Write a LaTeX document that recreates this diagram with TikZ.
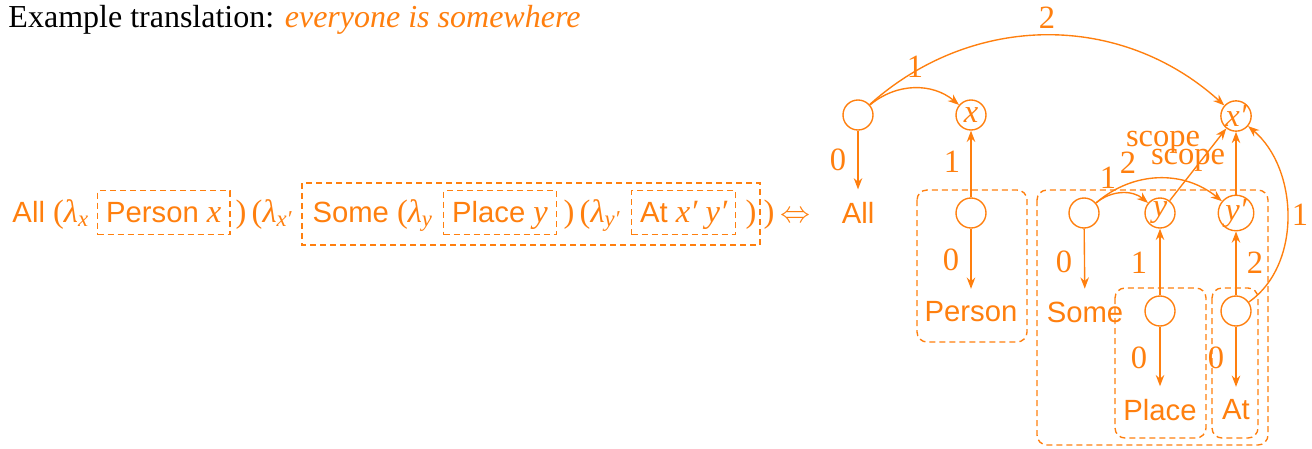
\documentclass[tikz,border=0pt]{standalone}
\usepackage{fontspec}
\setmainfont{Liberation Serif}
\setsansfont{Liberation Sans}
\usetikzlibrary{arrows.meta}
\definecolor{orng}{RGB}{255,127,14}
\newcommand\fsz{\fontsize{11.7}{14}\selectfont}
\newcommand\rsz{\fontsize{13}{15}\selectfont}
\newcommand\lam[1]{{\rmfamily\rsz\itshape λ\textsubscript{#1}}}
\newcommand\mi[1]{{\rmfamily\rsz\itshape #1}}
\begin{document}
\begin{tikzpicture}[x=0.4pt,y=0.4pt,
  ln/.style={draw=orng,line width=0.55pt},
  arr/.style={ln,-{Stealth[length=4.5pt,width=3.4pt]}},
  cn/.style={circle,draw=orng,line width=0.55pt,minimum size=12pt,inner sep=0pt,text=orng,font=\rsz\rmfamily\itshape},
  num/.style={text=orng,font=\rsz\rmfamily,inner sep=0pt},
  sl/.style={text=orng,font=\fsz\sffamily,inner sep=5pt},
  fx/.style={text=orng,font=\fsz\sffamily,inner sep=0pt,anchor=base west},
  fbx/.style={draw=orng,line width=0.55pt,dash pattern=on 2.4pt off 1.6pt,text=orng,font=\fsz\sffamily,anchor=base west,inner xsep=3.4pt,inner ysep=3pt,text height=9.5pt,text depth=2pt},
  grp/.style={draw=orng,line width=0.55pt,dash pattern=on 2.4pt off 1.6pt,rounded corners=4pt}]
\useasboundingbox (0,0) rectangle (1312,-448);
% title
\node[anchor=base west,inner sep=0pt,font=\fontsize{12.8}{15}\selectfont] (title) at (8,-27) {Example translation: \textcolor{orng}{\itshape everyone is somewhere}};
% left formula
\node[fx] (f1) at (12,-222) {All {\rmfamily\rsz(}\lam{x}};
\node[fbx] (b1) at (97,-222) {Person \mi{x}};
\node[fx] (f2) at (235,-222) {\rmfamily\rsz)\,(\lam{x′}};
\node[fx] (s1) at (312,-222) {Some {\rmfamily\rsz(}\lam{y}};
\node[fbx] (b2) at (443,-222) {Place \mi{y}};
\node[fx] (f3) at (563,-222) {\rmfamily\rsz)\,(\lam{y′}};
\node[fbx] (b3) at (631,-222) {At \mi{x′}\ \mi{y′}};
\node[fx] (f4) at (745,-222) {\rmfamily\rsz)};
\node[fx] (f5) at (763,-222) {\rmfamily\rsz)};
\node[fx] (iff) at (780,-222) {\rsz$\Leftrightarrow$};
\draw[grp,rounded corners=0pt] (302,-183) rectangle (760,-245);
% groups
\draw[grp] (917,-190) rectangle (1027,-342);
\draw[grp] (1037,-190) rectangle (1268,-445);
\draw[grp] (1115,-288) rectangle (1206,-438);
\draw[grp] (1212,-288) rectangle (1258,-438);
% circles
\node[cn] (A) at (858,-115) {};
\node[cn] (X) at (971,-115) {x};
\node[cn] (XP) at (1236,-116) {x′};
\node[cn] (P) at (971,-213) {};
\node[cn] (S) at (1084,-213) {};
\node[cn] (Y) at (1160,-213) {y};
\node[cn] (YP) at (1236,-213) {y′};
\node[cn] (PL) at (1160,-311) {};
\node[cn] (AT) at (1236,-311) {};
% labels
\node[sl] (All) at (858,-213) {All};
\node[sl] (Person) at (971,-312) {Person};
\node[sl] (Some) at (1085,-312) {Some};
\node[sl] (Place) at (1160,-410) {Place};
\node[sl] (At) at (1236,-410) {At};
% edges
\draw[arr] (A) -- (All);
\draw[arr] (A) to[bend left=40] (X);
\draw[arr] (A) to[bend left=42] (XP);
\draw[arr] (P) -- (X);
\draw[arr] (P) -- (Person);
\draw[arr] (S) -- (Some);
\draw[arr] (S) to[bend left=40] (Y);
\draw[arr] (S) to[bend left=40] (YP);
\draw[arr] (Y) -- (XP);
\draw[arr] (YP) -- (XP);
\draw[arr] (PL) -- (Y);
\draw[arr] (PL) -- (Place);
\draw[arr] (AT) -- (YP);
\draw[arr] (AT) -- (At);
\draw[arr] (AT) to[out=35,in=-40,looseness=0.95] (XP);
% edge labels
\node[num] (l1) at (838,-160) {0};
\node[num] (l2) at (915,-67) {1};
\node[num] (l3) at (1047,-18) {2};
\node[num] (l4) at (952,-162) {1};
\node[num] (l5) at (951,-260) {0};
\node[num] (l6) at (1064,-262) {0};
\node[num] (l7) at (1108,-178) {1};
\node[num] (l8) at (1128,-163) {2};
\node[num] (l9) at (1163,-142) {scope};
\node[num] (l10) at (1188,-160) {scope};
\node[num] (l11) at (1139,-263) {1};
\node[num] (l12) at (1139,-358) {0};
\node[num] (l13) at (1255,-263) {2};
\node[num] (l14) at (1216,-358) {0};
\node[num] (l15) at (1300,-215) {1};
\end{tikzpicture}
\end{document}
